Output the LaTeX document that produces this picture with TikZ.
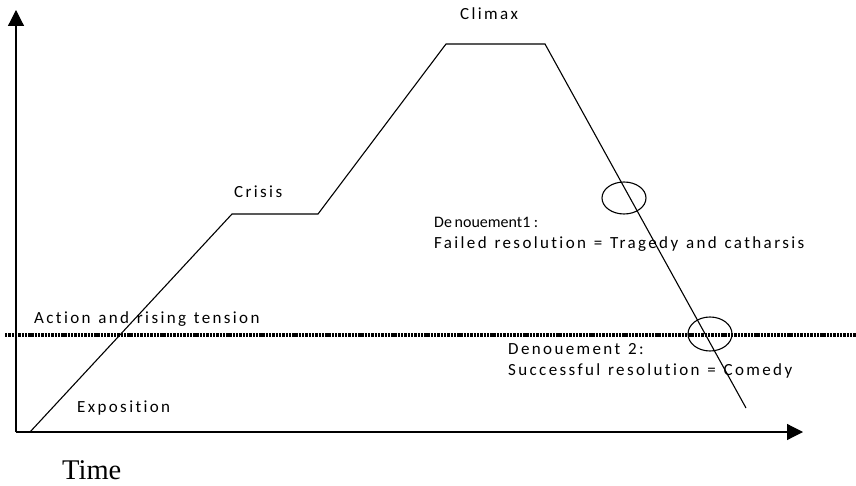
\documentclass[tikz,border=0pt]{standalone}
\usepackage{fontspec}
\setmainfont{Carlito}
\newfontfamily\spaced[LetterSpace=14,Ligatures={NoCommon},WordSpace=1.25]{Carlito}
\newfontfamily\timesf{Liberation Serif}
\usetikzlibrary{arrows.meta}
\tikzset{
  lbl/.style={anchor=base west, inner sep=0pt, font=\spaced\fontsize{17}{20}\selectfont},
  axis/.style={line width=1.2pt, -{Triangle[length=16pt,width=16pt]}},
  plot/.style={line width=1.1pt}
}
\begin{document}
\begin{tikzpicture}[x=1pt,y=-1pt]
\useasboundingbox (0,0) rectangle (856,486);
% axes
\coordinate (O) at (16,432);
\coordinate (Ytop) at (16,10);
\coordinate (Xend) at (803,432);
\draw[axis] (O) -- (Ytop);
\draw[axis] (O) -- (Xend);
% dashed line
\coordinate (d1) at (5,335);
\coordinate (d2) at (856,335);
\draw[line width=3.8pt, dash pattern=on 2.4pt off 0.9pt] (d1) -- (d2);
% plot
\coordinate (p0) at (30,432);
\coordinate (p1) at (232,214);
\coordinate (p2) at (318,214);
\coordinate (p3) at (446,44);
\coordinate (p4) at (545,44);
\coordinate (p5) at (746,408);
\draw[plot] (p0) -- (p1) -- (p2) -- (p3) -- (p4) -- (p5);
% circles
\draw[line width=1.1pt] (624,198) ellipse [x radius=22, y radius=16];
\draw[line width=1.1pt] (710,334) ellipse [x radius=22, y radius=17];
% labels
\node[lbl] (climax) at (460,20) {Climax};
\node[lbl] (crisis) at (234,198) {Crisis};
\node[anchor=base west, inner sep=0pt, font=\fontsize{16}{18}\selectfont] (den1) at (434,228) {De\,nouement1 :};
\node[lbl] (fail) at (434,249) {Failed resolution = Tragedy and catharsis};
\node[lbl] (action) at (34,323) {Action and rising tension};
\node[lbl] (den2) at (508,354) {Denouement 2:};
\node[lbl] (succ) at (508,375) {Successful resolution = Comedy};
\node[lbl] (expo) at (77,412) {Exposition};
\node[anchor=base west, inner sep=0pt, font=\timesf\fontsize{28.5}{32}\selectfont] (time) at (62,479) {Time};
\end{tikzpicture}
\end{document}
